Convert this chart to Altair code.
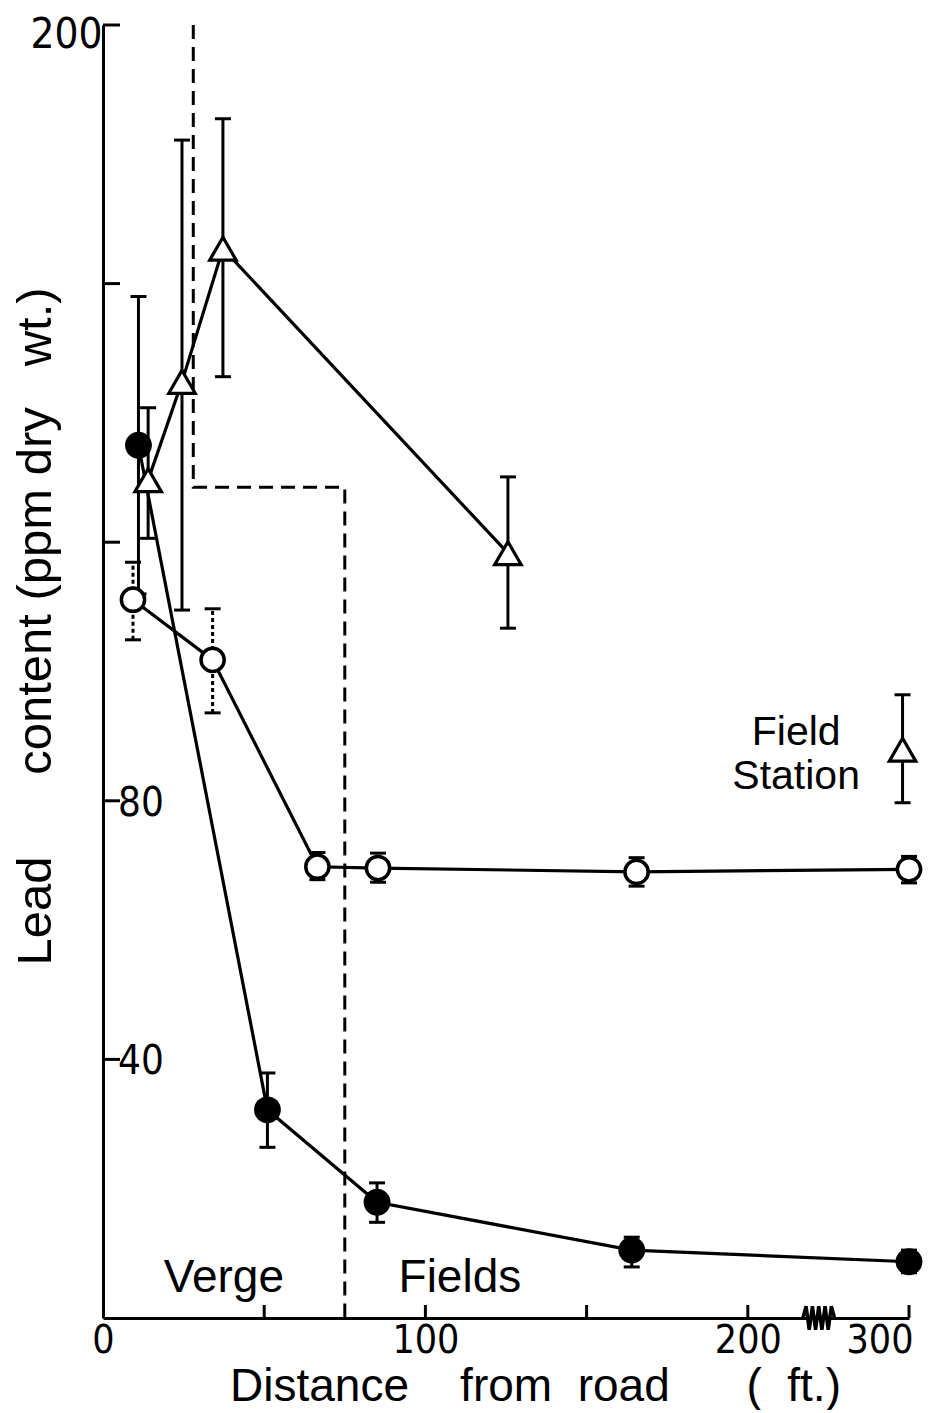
import altair as alt
import pandas as pd

# ---------------- data ----------------
# Filled circles
fc_x = [11, 51, 85, 164, 300]
fc_y = [135.0, 32.2, 17.9, 10.5, 8.7]
fc_lo = [112.0, 26.4, 14.8, 7.9, 7.0]
fc_hi = [158.0, 37.9, 20.9, 12.5, 10.5]

# Open circles
oc_x = [9.3, 34, 66.5, 85.3, 165.5, 300]
oc_y = [111.1, 101.8, 69.8, 69.6, 69.0, 69.4]
oc_lo = [104.9, 93.6, 67.8, 67.4, 66.8, 67.3]
oc_hi = [116.9, 109.7, 72.0, 71.9, 71.2, 71.4]

# Open triangles
tr_x = [14, 24.5, 37.2, 125.6]
tr_y = [129.6, 144.8, 165.4, 118.3]
tr_lo = [120.6, 109.5, 145.6, 106.7]
tr_hi = [140.8, 182.2, 185.5, 130.1]

# Field station (single triangle, not connected)
fs_x = [296]
fs_y = [87.9]
fs_lo = [79.7]
fs_hi = [96.4]

# Verge / Fields boundary (dashed)
bd_x = [28, 28, 75, 75]
bd_y = [200, 128.5, 128.5, 0]

# axis ticks / labels
x_tick_vals = [50, 100, 150, 200, 300]
x_label_vals = [0, 100, 200, 300]
y_tick_vals = [40, 80, 120, 160, 200]
y_inside_labels = [80, 40]
axis_break_ft = 244

BLACK = "#000000"
NUM_FONT = "Liberation Sans Narrow, DejaVu Sans Condensed, Liberation Sans, sans-serif"
TXT_FONT = "Liberation Sans, Arial, sans-serif"
NB = "\u00a0"


def pos(ft):
    """broken axis: beyond 200 ft the scale is compressed by half"""
    return ft if ft <= 200 else 200 + (ft - 200) * 0.5


def table(xs, ys, los, his):
    return pd.DataFrame({"px": [pos(v) for v in xs], "val": ys, "lo": los, "hi": his})


df_fc = table(fc_x, fc_y, fc_lo, fc_hi)
df_oc = table(oc_x, oc_y, oc_lo, oc_hi)
df_tr = table(tr_x, tr_y, tr_lo, tr_hi)
df_fs = table(fs_x, fs_y, fs_lo, fs_hi)
df_bd = pd.DataFrame({"px": [pos(v) for v in bd_x], "val": bd_y, "i": list(range(len(bd_x)))})

W, H = 806, 1293
xs = alt.Scale(domain=[0, 250], nice=False, zero=False)
ys = alt.Scale(domain=[0, 200], nice=False, zero=False)

last_pos = pos(x_label_vals[-1])
label_expr = "".join(f"datum.value == {pos(v)} ? '{v}' : " for v in x_label_vals) + "''"

x_axis = alt.Axis(
    values=[pos(v) for v in x_label_vals], labelExpr=label_expr, ticks=False, grid=False,
    domainWidth=3, domainColor=BLACK, labelFont=NUM_FONT, labelFontSize=39, labelColor=BLACK,
    labelPadding=3, labelFlush=False, labelBaseline="top",
    labelAlign={"condition": {"test": f"datum.value == {last_pos}", "value": "right"}, "value": "center"},
    labelOffset={"condition": {"test": f"datum.value == {last_pos}", "value": 4}, "value": 0},
    title=f"Distance{NB*4}from{NB*2}road{NB*6}({NB*2}ft.)", titleFont=TXT_FONT, titleFontSize=46,
    titleFontWeight="normal", titleColor=BLACK, titleX=432, titleY=82, titleBaseline="alphabetic",
)
y_axis = alt.Axis(
    values=[200], labelExpr="'200'", ticks=False, grid=False,
    domainWidth=3, domainColor=BLACK, labelFont=NUM_FONT, labelFontSize=42, labelColor=BLACK,
    labelPadding=1, labelOffset=9,
    title=f"Lead{NB*6}content (ppm dry{NB*3}wt.)", titleFont=TXT_FONT, titleFontSize=49,
    titleFontWeight="normal", titleColor=BLACK, titleX=-53, titleY=601, titleAngle=270,
    titleBaseline="alphabetic",
)


def X(field="px"):
    return alt.X(f"{field}:Q", scale=xs, axis=x_axis)


def Y(field="val"):
    return alt.Y(f"{field}:Q", scale=ys, axis=y_axis)


boundary = alt.Chart(df_bd).mark_line(color=BLACK, strokeWidth=3, strokeDash=[14, 8]).encode(
    x=X(), y=Y(), order="i:Q",
)


def err_layers(df, dashed=False):
    props = dict(color=BLACK, strokeWidth=3)
    if dashed:
        props["strokeDash"] = [4, 3]
    stem = alt.Chart(df).mark_rule(**props).encode(x=X(), y=Y("lo"), y2="hi:Q")
    caps = alt.Chart(df).transform_fold(["lo", "hi"], as_=["k", "e"]).mark_tick(
        color=BLACK, orient="horizontal", size=16, thickness=3, opacity=1
    ).encode(x=X(), y=Y("e"))
    return [stem, caps]


def line(df):
    return alt.Chart(df).mark_line(color=BLACK, strokeWidth=3.2).encode(x=X(), y=Y())


filled_pts = alt.Chart(df_fc).mark_point(
    shape="circle", filled=True, color=BLACK, size=720, opacity=1
).encode(x=X(), y=Y())
open_pts = alt.Chart(df_oc).mark_point(
    shape="circle", filled=True, fill="white", stroke=BLACK, strokeWidth=3.5, size=540, opacity=1
).encode(x=X(), y=Y())
tri_pts = alt.Chart(pd.concat([df_tr, df_fs])).mark_point(
    shape="triangle-up", filled=True, fill="white", stroke=BLACK, strokeWidth=3.2, size=700, opacity=1
).encode(x=X(), y=Y())

# inward ticks
ytick_df = pd.DataFrame({"val": y_tick_vals})
ytick = alt.Chart(ytick_df).mark_rule(color=BLACK, strokeWidth=3).encode(
    y=Y(), x=alt.value(0), x2=alt.value(17)
)
xtick_df = pd.DataFrame({"px": [pos(v) for v in x_tick_vals]})
xtick = alt.Chart(xtick_df).mark_rule(color=BLACK, strokeWidth=3).encode(
    x=X(), y=alt.value(H), y2=alt.value(H - 13)
)

# inside y labels
ylab_df = pd.DataFrame({"val": y_inside_labels, "t": [str(v) for v in y_inside_labels]})
ylab = alt.Chart(ylab_df).mark_text(
    font=NUM_FONT, fontSize=40, align="left", baseline="middle", dx=15, dy=3, color=BLACK
).encode(y=Y(), x=alt.value(0), text="t:N")

# axis break zig-zag
zig_path = "M-1,0L-0.8,-0.75L-0.6,0.75L-0.4,-0.75L-0.2,0.75L0,-0.75L0.2,0.75L0.4,-0.75L0.6,0.75L0.8,-0.75L1,0"
brk = alt.Chart(pd.DataFrame({"px": [pos(axis_break_ft)], "val": [0]})).mark_point(
    shape=zig_path, filled=False, stroke=BLACK, strokeWidth=3.5, size=1000, opacity=1
).encode(x=X(), y=Y())

# annotations
ann_df = pd.DataFrame({
    "px": [37.5, 110.7],
    "val": [4.0, 4.0],
    "t": ["Verge", "Fields"],
})
ann = alt.Chart(ann_df).mark_text(
    font=TXT_FONT, fontSize=46, align="center", baseline="alphabetic", color=BLACK
).encode(x=X(), y=Y(), text="t:N")

fs_lab_df = pd.DataFrame({"px": [215.0, 215.0], "val": [88.6, 81.8], "t": ["Field", "Station"]})
fs_lab = alt.Chart(fs_lab_df).mark_text(
    font=TXT_FONT, fontSize=41, align="center", baseline="alphabetic", color=BLACK
).encode(x=X(), y=Y(), text="t:N")

layers = [boundary]
layers += err_layers(df_fc)
layers += err_layers(df_oc, dashed=True)
layers += err_layers(df_tr)
layers += err_layers(df_fs)
layers += [line(df_fc), line(df_oc), line(df_tr)]
layers += [filled_pts, open_pts, tri_pts, ytick, xtick, ylab, brk, ann, fs_lab]

chart = alt.layer(*layers).properties(
    width=W, height=H,
    background="white",
    autosize=alt.AutoSizeParams(type="none"),
    padding={"left": 95, "top": 17, "right": 20, "bottom": 92},
).configure_view(strokeWidth=0, stroke=None)

chart.save("out.html", embed_options={"renderer": "svg", "actions": False})
